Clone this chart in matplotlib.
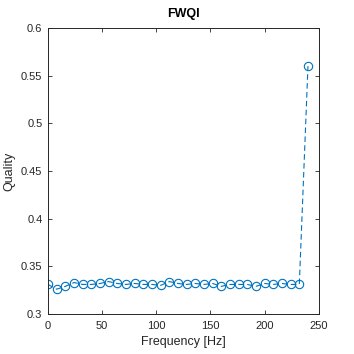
import matplotlib
matplotlib.use("Agg")
import matplotlib.pyplot as plt

freq_step = 8
freqs = [i * freq_step for i in range(31)]
quality = [0.331, 0.326, 0.329, 0.333, 0.331, 0.331, 0.332, 0.334, 0.332, 0.331,
           0.332, 0.331, 0.331, 0.330, 0.334, 0.332, 0.331, 0.332, 0.331, 0.332,
           0.329, 0.331, 0.331, 0.331, 0.329, 0.332, 0.331, 0.332, 0.331, 0.331,
           0.560]
xticks = [0, 50, 100, 150, 200, 250]
yticks = [0.3, 0.35, 0.4, 0.45, 0.5, 0.55, 0.6]
ytick_labels = ["0.3", "0.35", "0.4", "0.45", "0.5", "0.55", "0.6"]

plt.rcParams['font.family'] = ['Liberation Sans', 'DejaVu Sans']

fig = plt.figure(figsize=(3.54, 3.54), dpi=100)
ax = fig.add_axes([0.1356, 0.113, 0.765, 0.808])
ax.plot(freqs, quality, linestyle='--', dashes=(5, 3), color='#0072BD', linewidth=0.8,
        marker='o', markersize=6, markerfacecolor='none', markeredgecolor='#0072BD',
        markeredgewidth=0.8)
ax.set_xlim(0, 250)
ax.set_ylim(0.3, 0.6)
ax.set_xticks(xticks)
ax.set_yticks(yticks)
ax.set_yticklabels(ytick_labels)
ax.tick_params(direction='in', top=True, right=True, length=3, width=0.6,
               labelsize=8, colors='#262626')
ax.tick_params(axis='x', pad=5)
ax.tick_params(axis='y', pad=4)
for s in ax.spines.values():
    s.set_color('#262626')
    s.set_linewidth(0.7)
ax.set_xlabel('Frequency [Hz]', fontsize=9, color='#262626', labelpad=4)
ax.set_ylabel('Quality', fontsize=9, color='#262626', labelpad=4)
ax.set_title('FWQI', fontsize=9, fontweight='bold', color='black', pad=8)
fig.savefig('out.png', dpi=100)
